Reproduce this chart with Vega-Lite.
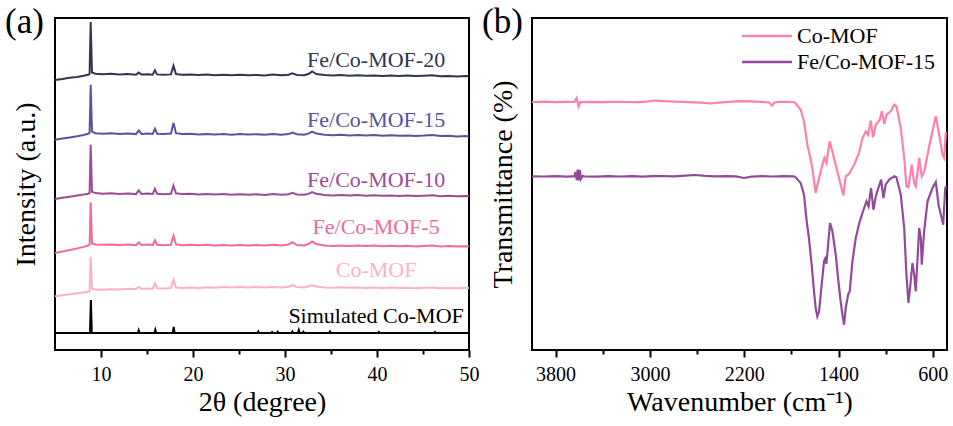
{
  "$schema": "https://vega.github.io/schema/vega-lite/v6.json",
  "background": "white",
  "padding": {"left": 4, "top": 4, "right": 2, "bottom": 0},
  "spacing": 1,
  "config": {
    "font": "Liberation Serif",
    "view": {"stroke": "black", "strokeWidth": 2},
    "axis": {
      "labelFont": "Liberation Serif",
      "titleFont": "Liberation Serif",
      "labelFontSize": 20,
      "titleFontSize": 28,
      "titleFontWeight": "normal",
      "labelColor": "black",
      "titleColor": "black",
      "domain": false,
      "grid": false,
      "tickColor": "black",
      "tickWidth": 2
    },
    "axisY": {"labels": false, "ticks": false, "titlePadding": 15, "titleFont": "Liberation Serif", "labelFont": "Liberation Serif"},
    "axisX": {"labelPadding": 7, "titlePadding": 4, "labelFlush": false, "titleFont": "Liberation Serif", "labelFont": "Liberation Serif"}
  },
  "datasets": {
    "xrd": [
      {"sample": "Fe/Co-MOF-20", "theta": 5, "intensity": 270},
      {"sample": "Fe/Co-MOF-20", "theta": 5.8, "intensity": 271},
      {"sample": "Fe/Co-MOF-20", "theta": 6.6, "intensity": 272.2},
      {"sample": "Fe/Co-MOF-20", "theta": 7.4, "intensity": 273},
      {"sample": "Fe/Co-MOF-20", "theta": 8.1, "intensity": 274.2},
      {"sample": "Fe/Co-MOF-20", "theta": 8.6, "intensity": 275.2},
      {"sample": "Fe/Co-MOF-20", "theta": 8.76, "intensity": 276},
      {"sample": "Fe/Co-MOF-20", "theta": 8.88, "intensity": 328},
      {"sample": "Fe/Co-MOF-20", "theta": 9.02, "intensity": 277.5},
      {"sample": "Fe/Co-MOF-20", "theta": 9.4, "intensity": 276.3},
      {"sample": "Fe/Co-MOF-20", "theta": 10.2, "intensity": 275.8},
      {"sample": "Fe/Co-MOF-20", "theta": 11.1, "intensity": 276.2},
      {"sample": "Fe/Co-MOF-20", "theta": 12.0, "intensity": 275.5},
      {"sample": "Fe/Co-MOF-20", "theta": 12.9, "intensity": 275.9},
      {"sample": "Fe/Co-MOF-20", "theta": 13.8, "intensity": 275.3},
      {"sample": "Fe/Co-MOF-20", "theta": 14.1, "intensity": 277.4},
      {"sample": "Fe/Co-MOF-20", "theta": 14.4, "intensity": 275.4},
      {"sample": "Fe/Co-MOF-20", "theta": 15.1, "intensity": 275.8},
      {"sample": "Fe/Co-MOF-20", "theta": 15.62, "intensity": 275.3},
      {"sample": "Fe/Co-MOF-20", "theta": 15.86, "intensity": 279.7},
      {"sample": "Fe/Co-MOF-20", "theta": 16.1, "intensity": 275.6},
      {"sample": "Fe/Co-MOF-20", "theta": 16.8, "intensity": 275.2},
      {"sample": "Fe/Co-MOF-20", "theta": 17.6, "intensity": 275.6},
      {"sample": "Fe/Co-MOF-20", "theta": 17.88, "intensity": 284.3},
      {"sample": "Fe/Co-MOF-20", "theta": 18.15, "intensity": 276},
      {"sample": "Fe/Co-MOF-20", "theta": 18.8, "intensity": 275.3},
      {"sample": "Fe/Co-MOF-20", "theta": 19.7, "intensity": 275.6},
      {"sample": "Fe/Co-MOF-20", "theta": 20.6, "intensity": 274.9},
      {"sample": "Fe/Co-MOF-20", "theta": 21.5, "intensity": 275.4},
      {"sample": "Fe/Co-MOF-20", "theta": 22.4, "intensity": 274.8},
      {"sample": "Fe/Co-MOF-20", "theta": 23.3, "intensity": 275.2},
      {"sample": "Fe/Co-MOF-20", "theta": 24.2, "intensity": 274.7},
      {"sample": "Fe/Co-MOF-20", "theta": 25.1, "intensity": 275.3},
      {"sample": "Fe/Co-MOF-20", "theta": 26.0, "intensity": 274.8},
      {"sample": "Fe/Co-MOF-20", "theta": 26.9, "intensity": 275.1},
      {"sample": "Fe/Co-MOF-20", "theta": 27.8, "intensity": 274.6},
      {"sample": "Fe/Co-MOF-20", "theta": 28.7, "intensity": 275.4},
      {"sample": "Fe/Co-MOF-20", "theta": 29.6, "intensity": 274.7},
      {"sample": "Fe/Co-MOF-20", "theta": 30.4, "intensity": 275.3},
      {"sample": "Fe/Co-MOF-20", "theta": 30.8, "intensity": 276.6},
      {"sample": "Fe/Co-MOF-20", "theta": 31.3, "intensity": 275.1},
      {"sample": "Fe/Co-MOF-20", "theta": 32.1, "intensity": 274.8},
      {"sample": "Fe/Co-MOF-20", "theta": 32.6, "intensity": 276.2},
      {"sample": "Fe/Co-MOF-20", "theta": 32.95, "intensity": 278.6},
      {"sample": "Fe/Co-MOF-20", "theta": 33.4, "intensity": 276},
      {"sample": "Fe/Co-MOF-20", "theta": 34.3, "intensity": 274.9},
      {"sample": "Fe/Co-MOF-20", "theta": 35.2, "intensity": 274.4},
      {"sample": "Fe/Co-MOF-20", "theta": 36.1, "intensity": 274.9},
      {"sample": "Fe/Co-MOF-20", "theta": 37.0, "intensity": 274.3},
      {"sample": "Fe/Co-MOF-20", "theta": 37.9, "intensity": 274.7},
      {"sample": "Fe/Co-MOF-20", "theta": 38.8, "intensity": 274.2},
      {"sample": "Fe/Co-MOF-20", "theta": 39.7, "intensity": 274.6},
      {"sample": "Fe/Co-MOF-20", "theta": 40.6, "intensity": 274.1},
      {"sample": "Fe/Co-MOF-20", "theta": 41.5, "intensity": 274.5},
      {"sample": "Fe/Co-MOF-20", "theta": 42.4, "intensity": 274},
      {"sample": "Fe/Co-MOF-20", "theta": 43.3, "intensity": 274.4},
      {"sample": "Fe/Co-MOF-20", "theta": 44.2, "intensity": 273.9},
      {"sample": "Fe/Co-MOF-20", "theta": 45.1, "intensity": 274.3},
      {"sample": "Fe/Co-MOF-20", "theta": 46.0, "intensity": 274.8},
      {"sample": "Fe/Co-MOF-20", "theta": 46.9, "intensity": 273.8},
      {"sample": "Fe/Co-MOF-20", "theta": 47.8, "intensity": 274.1},
      {"sample": "Fe/Co-MOF-20", "theta": 48.7, "intensity": 273.6},
      {"sample": "Fe/Co-MOF-20", "theta": 49.6, "intensity": 274},
      {"sample": "Fe/Co-MOF-20", "theta": 50, "intensity": 273.7},

      {"sample": "Fe/Co-MOF-15", "theta": 5, "intensity": 210.3},
      {"sample": "Fe/Co-MOF-15", "theta": 5.8, "intensity": 211.5},
      {"sample": "Fe/Co-MOF-15", "theta": 6.6, "intensity": 212.6},
      {"sample": "Fe/Co-MOF-15", "theta": 7.4, "intensity": 213.8},
      {"sample": "Fe/Co-MOF-15", "theta": 8.1, "intensity": 215},
      {"sample": "Fe/Co-MOF-15", "theta": 8.6, "intensity": 216.2},
      {"sample": "Fe/Co-MOF-15", "theta": 8.76, "intensity": 217},
      {"sample": "Fe/Co-MOF-15", "theta": 8.88, "intensity": 265.3},
      {"sample": "Fe/Co-MOF-15", "theta": 9.02, "intensity": 218.3},
      {"sample": "Fe/Co-MOF-15", "theta": 9.4, "intensity": 216.8},
      {"sample": "Fe/Co-MOF-15", "theta": 10.2, "intensity": 216.3},
      {"sample": "Fe/Co-MOF-15", "theta": 11.1, "intensity": 216.7},
      {"sample": "Fe/Co-MOF-15", "theta": 12.0, "intensity": 216},
      {"sample": "Fe/Co-MOF-15", "theta": 12.9, "intensity": 216.5},
      {"sample": "Fe/Co-MOF-15", "theta": 13.8, "intensity": 215.9},
      {"sample": "Fe/Co-MOF-15", "theta": 14.1, "intensity": 219.6},
      {"sample": "Fe/Co-MOF-15", "theta": 14.4, "intensity": 216.1},
      {"sample": "Fe/Co-MOF-15", "theta": 15.1, "intensity": 216.4},
      {"sample": "Fe/Co-MOF-15", "theta": 15.62, "intensity": 216},
      {"sample": "Fe/Co-MOF-15", "theta": 15.86, "intensity": 221.3},
      {"sample": "Fe/Co-MOF-15", "theta": 16.1, "intensity": 216.3},
      {"sample": "Fe/Co-MOF-15", "theta": 16.8, "intensity": 215.9},
      {"sample": "Fe/Co-MOF-15", "theta": 17.6, "intensity": 216.4},
      {"sample": "Fe/Co-MOF-15", "theta": 17.88, "intensity": 227},
      {"sample": "Fe/Co-MOF-15", "theta": 18.15, "intensity": 216.8},
      {"sample": "Fe/Co-MOF-15", "theta": 18.8, "intensity": 216},
      {"sample": "Fe/Co-MOF-15", "theta": 19.7, "intensity": 216.3},
      {"sample": "Fe/Co-MOF-15", "theta": 20.6, "intensity": 215.6},
      {"sample": "Fe/Co-MOF-15", "theta": 21.5, "intensity": 216.1},
      {"sample": "Fe/Co-MOF-15", "theta": 22.4, "intensity": 215.5},
      {"sample": "Fe/Co-MOF-15", "theta": 23.3, "intensity": 215.9},
      {"sample": "Fe/Co-MOF-15", "theta": 24.2, "intensity": 215.3},
      {"sample": "Fe/Co-MOF-15", "theta": 25.1, "intensity": 215.9},
      {"sample": "Fe/Co-MOF-15", "theta": 26.0, "intensity": 215.4},
      {"sample": "Fe/Co-MOF-15", "theta": 26.9, "intensity": 215.8},
      {"sample": "Fe/Co-MOF-15", "theta": 27.8, "intensity": 215.2},
      {"sample": "Fe/Co-MOF-15", "theta": 28.7, "intensity": 216},
      {"sample": "Fe/Co-MOF-15", "theta": 29.6, "intensity": 215.3},
      {"sample": "Fe/Co-MOF-15", "theta": 30.4, "intensity": 215.9},
      {"sample": "Fe/Co-MOF-15", "theta": 30.8, "intensity": 217.4},
      {"sample": "Fe/Co-MOF-15", "theta": 31.3, "intensity": 215.7},
      {"sample": "Fe/Co-MOF-15", "theta": 32.1, "intensity": 215.3},
      {"sample": "Fe/Co-MOF-15", "theta": 32.6, "intensity": 216.6},
      {"sample": "Fe/Co-MOF-15", "theta": 32.95, "intensity": 218.4},
      {"sample": "Fe/Co-MOF-15", "theta": 33.4, "intensity": 216.4},
      {"sample": "Fe/Co-MOF-15", "theta": 34.3, "intensity": 215.3},
      {"sample": "Fe/Co-MOF-15", "theta": 35.2, "intensity": 214.7},
      {"sample": "Fe/Co-MOF-15", "theta": 36.1, "intensity": 215.2},
      {"sample": "Fe/Co-MOF-15", "theta": 37.0, "intensity": 214.6},
      {"sample": "Fe/Co-MOF-15", "theta": 37.9, "intensity": 215},
      {"sample": "Fe/Co-MOF-15", "theta": 38.8, "intensity": 214.4},
      {"sample": "Fe/Co-MOF-15", "theta": 39.7, "intensity": 214.9},
      {"sample": "Fe/Co-MOF-15", "theta": 40.6, "intensity": 214.3},
      {"sample": "Fe/Co-MOF-15", "theta": 41.5, "intensity": 214.7},
      {"sample": "Fe/Co-MOF-15", "theta": 42.4, "intensity": 214.2},
      {"sample": "Fe/Co-MOF-15", "theta": 43.3, "intensity": 214.6},
      {"sample": "Fe/Co-MOF-15", "theta": 44.2, "intensity": 214},
      {"sample": "Fe/Co-MOF-15", "theta": 45.1, "intensity": 214.4},
      {"sample": "Fe/Co-MOF-15", "theta": 46.0, "intensity": 215},
      {"sample": "Fe/Co-MOF-15", "theta": 46.9, "intensity": 213.9},
      {"sample": "Fe/Co-MOF-15", "theta": 47.8, "intensity": 214.2},
      {"sample": "Fe/Co-MOF-15", "theta": 48.7, "intensity": 213.6},
      {"sample": "Fe/Co-MOF-15", "theta": 49.6, "intensity": 214},
      {"sample": "Fe/Co-MOF-15", "theta": 50, "intensity": 213.7},

      {"sample": "Fe/Co-MOF-10", "theta": 5, "intensity": 151},
      {"sample": "Fe/Co-MOF-10", "theta": 5.8, "intensity": 152.2},
      {"sample": "Fe/Co-MOF-10", "theta": 6.6, "intensity": 153.3},
      {"sample": "Fe/Co-MOF-10", "theta": 7.4, "intensity": 154.4},
      {"sample": "Fe/Co-MOF-10", "theta": 8.1, "intensity": 155.4},
      {"sample": "Fe/Co-MOF-10", "theta": 8.6, "intensity": 156.3},
      {"sample": "Fe/Co-MOF-10", "theta": 8.76, "intensity": 157},
      {"sample": "Fe/Co-MOF-10", "theta": 8.88, "intensity": 205.3},
      {"sample": "Fe/Co-MOF-10", "theta": 9.02, "intensity": 158.2},
      {"sample": "Fe/Co-MOF-10", "theta": 9.4, "intensity": 156.9},
      {"sample": "Fe/Co-MOF-10", "theta": 10.2, "intensity": 156.3},
      {"sample": "Fe/Co-MOF-10", "theta": 11.1, "intensity": 156.7},
      {"sample": "Fe/Co-MOF-10", "theta": 12.0, "intensity": 156},
      {"sample": "Fe/Co-MOF-10", "theta": 12.9, "intensity": 156.5},
      {"sample": "Fe/Co-MOF-10", "theta": 13.8, "intensity": 155.9},
      {"sample": "Fe/Co-MOF-10", "theta": 14.1, "intensity": 159.6},
      {"sample": "Fe/Co-MOF-10", "theta": 14.4, "intensity": 156.1},
      {"sample": "Fe/Co-MOF-10", "theta": 15.1, "intensity": 156.5},
      {"sample": "Fe/Co-MOF-10", "theta": 15.62, "intensity": 156},
      {"sample": "Fe/Co-MOF-10", "theta": 15.86, "intensity": 161.2},
      {"sample": "Fe/Co-MOF-10", "theta": 16.1, "intensity": 156.3},
      {"sample": "Fe/Co-MOF-10", "theta": 16.8, "intensity": 155.8},
      {"sample": "Fe/Co-MOF-10", "theta": 17.6, "intensity": 156.3},
      {"sample": "Fe/Co-MOF-10", "theta": 17.88, "intensity": 164.3},
      {"sample": "Fe/Co-MOF-10", "theta": 18.15, "intensity": 156.7},
      {"sample": "Fe/Co-MOF-10", "theta": 18.8, "intensity": 155.9},
      {"sample": "Fe/Co-MOF-10", "theta": 19.7, "intensity": 156.3},
      {"sample": "Fe/Co-MOF-10", "theta": 20.6, "intensity": 155.6},
      {"sample": "Fe/Co-MOF-10", "theta": 21.5, "intensity": 156.1},
      {"sample": "Fe/Co-MOF-10", "theta": 22.4, "intensity": 155.5},
      {"sample": "Fe/Co-MOF-10", "theta": 23.3, "intensity": 155.9},
      {"sample": "Fe/Co-MOF-10", "theta": 24.2, "intensity": 155.3},
      {"sample": "Fe/Co-MOF-10", "theta": 25.1, "intensity": 155.8},
      {"sample": "Fe/Co-MOF-10", "theta": 26.0, "intensity": 155.2},
      {"sample": "Fe/Co-MOF-10", "theta": 26.9, "intensity": 155.7},
      {"sample": "Fe/Co-MOF-10", "theta": 27.8, "intensity": 155.1},
      {"sample": "Fe/Co-MOF-10", "theta": 28.7, "intensity": 155.9},
      {"sample": "Fe/Co-MOF-10", "theta": 29.6, "intensity": 155.2},
      {"sample": "Fe/Co-MOF-10", "theta": 30.4, "intensity": 155.8},
      {"sample": "Fe/Co-MOF-10", "theta": 30.8, "intensity": 157.2},
      {"sample": "Fe/Co-MOF-10", "theta": 31.3, "intensity": 155.5},
      {"sample": "Fe/Co-MOF-10", "theta": 32.1, "intensity": 155.2},
      {"sample": "Fe/Co-MOF-10", "theta": 32.6, "intensity": 156.4},
      {"sample": "Fe/Co-MOF-10", "theta": 32.95, "intensity": 158},
      {"sample": "Fe/Co-MOF-10", "theta": 33.4, "intensity": 156.2},
      {"sample": "Fe/Co-MOF-10", "theta": 34.3, "intensity": 155.1},
      {"sample": "Fe/Co-MOF-10", "theta": 35.2, "intensity": 154.6},
      {"sample": "Fe/Co-MOF-10", "theta": 36.1, "intensity": 155.1},
      {"sample": "Fe/Co-MOF-10", "theta": 37.0, "intensity": 154.5},
      {"sample": "Fe/Co-MOF-10", "theta": 37.9, "intensity": 154.9},
      {"sample": "Fe/Co-MOF-10", "theta": 38.8, "intensity": 154.3},
      {"sample": "Fe/Co-MOF-10", "theta": 39.7, "intensity": 154.8},
      {"sample": "Fe/Co-MOF-10", "theta": 40.6, "intensity": 154.2},
      {"sample": "Fe/Co-MOF-10", "theta": 41.5, "intensity": 154.6},
      {"sample": "Fe/Co-MOF-10", "theta": 42.4, "intensity": 154.1},
      {"sample": "Fe/Co-MOF-10", "theta": 43.3, "intensity": 154.5},
      {"sample": "Fe/Co-MOF-10", "theta": 44.2, "intensity": 153.9},
      {"sample": "Fe/Co-MOF-10", "theta": 45.1, "intensity": 154.3},
      {"sample": "Fe/Co-MOF-10", "theta": 46.0, "intensity": 154.7},
      {"sample": "Fe/Co-MOF-10", "theta": 46.9, "intensity": 153.8},
      {"sample": "Fe/Co-MOF-10", "theta": 47.8, "intensity": 154.2},
      {"sample": "Fe/Co-MOF-10", "theta": 48.7, "intensity": 153.7},
      {"sample": "Fe/Co-MOF-10", "theta": 49.6, "intensity": 154.1},
      {"sample": "Fe/Co-MOF-10", "theta": 50, "intensity": 153.8},

      {"sample": "Fe/Co-MOF-5", "theta": 5, "intensity": 97},
      {"sample": "Fe/Co-MOF-5", "theta": 5.8, "intensity": 98.6},
      {"sample": "Fe/Co-MOF-5", "theta": 6.6, "intensity": 100.1},
      {"sample": "Fe/Co-MOF-5", "theta": 7.4, "intensity": 101.6},
      {"sample": "Fe/Co-MOF-5", "theta": 8.1, "intensity": 103.1},
      {"sample": "Fe/Co-MOF-5", "theta": 8.6, "intensity": 104.5},
      {"sample": "Fe/Co-MOF-5", "theta": 8.76, "intensity": 105.3},
      {"sample": "Fe/Co-MOF-5", "theta": 8.88, "intensity": 147.7},
      {"sample": "Fe/Co-MOF-5", "theta": 9.02, "intensity": 106.6},
      {"sample": "Fe/Co-MOF-5", "theta": 9.4, "intensity": 105.6},
      {"sample": "Fe/Co-MOF-5", "theta": 10.2, "intensity": 105.2},
      {"sample": "Fe/Co-MOF-5", "theta": 11.1, "intensity": 105.6},
      {"sample": "Fe/Co-MOF-5", "theta": 12.0, "intensity": 104.9},
      {"sample": "Fe/Co-MOF-5", "theta": 12.9, "intensity": 105.4},
      {"sample": "Fe/Co-MOF-5", "theta": 13.8, "intensity": 104.8},
      {"sample": "Fe/Co-MOF-5", "theta": 14.1, "intensity": 107.7},
      {"sample": "Fe/Co-MOF-5", "theta": 14.4, "intensity": 105},
      {"sample": "Fe/Co-MOF-5", "theta": 15.1, "intensity": 105.4},
      {"sample": "Fe/Co-MOF-5", "theta": 15.62, "intensity": 104.9},
      {"sample": "Fe/Co-MOF-5", "theta": 15.86, "intensity": 109.6},
      {"sample": "Fe/Co-MOF-5", "theta": 16.1, "intensity": 105.2},
      {"sample": "Fe/Co-MOF-5", "theta": 16.8, "intensity": 104.7},
      {"sample": "Fe/Co-MOF-5", "theta": 17.6, "intensity": 105.2},
      {"sample": "Fe/Co-MOF-5", "theta": 17.88, "intensity": 114.3},
      {"sample": "Fe/Co-MOF-5", "theta": 18.15, "intensity": 105.6},
      {"sample": "Fe/Co-MOF-5", "theta": 18.8, "intensity": 104.8},
      {"sample": "Fe/Co-MOF-5", "theta": 19.7, "intensity": 105.3},
      {"sample": "Fe/Co-MOF-5", "theta": 20.6, "intensity": 104.7},
      {"sample": "Fe/Co-MOF-5", "theta": 21.5, "intensity": 105.2},
      {"sample": "Fe/Co-MOF-5", "theta": 22.4, "intensity": 104.6},
      {"sample": "Fe/Co-MOF-5", "theta": 23.3, "intensity": 105.1},
      {"sample": "Fe/Co-MOF-5", "theta": 24.2, "intensity": 104.5},
      {"sample": "Fe/Co-MOF-5", "theta": 25.1, "intensity": 105},
      {"sample": "Fe/Co-MOF-5", "theta": 26.0, "intensity": 104.4},
      {"sample": "Fe/Co-MOF-5", "theta": 26.9, "intensity": 105},
      {"sample": "Fe/Co-MOF-5", "theta": 27.8, "intensity": 104.4},
      {"sample": "Fe/Co-MOF-5", "theta": 28.7, "intensity": 105.2},
      {"sample": "Fe/Co-MOF-5", "theta": 29.6, "intensity": 104.6},
      {"sample": "Fe/Co-MOF-5", "theta": 30.4, "intensity": 105.4},
      {"sample": "Fe/Co-MOF-5", "theta": 30.8, "intensity": 107.8},
      {"sample": "Fe/Co-MOF-5", "theta": 31.3, "intensity": 105},
      {"sample": "Fe/Co-MOF-5", "theta": 32.1, "intensity": 104.6},
      {"sample": "Fe/Co-MOF-5", "theta": 32.6, "intensity": 106.4},
      {"sample": "Fe/Co-MOF-5", "theta": 32.95, "intensity": 108.6},
      {"sample": "Fe/Co-MOF-5", "theta": 33.4, "intensity": 106},
      {"sample": "Fe/Co-MOF-5", "theta": 34.3, "intensity": 104.6},
      {"sample": "Fe/Co-MOF-5", "theta": 35.2, "intensity": 104.1},
      {"sample": "Fe/Co-MOF-5", "theta": 36.1, "intensity": 104.6},
      {"sample": "Fe/Co-MOF-5", "theta": 37.0, "intensity": 104},
      {"sample": "Fe/Co-MOF-5", "theta": 37.9, "intensity": 104.4},
      {"sample": "Fe/Co-MOF-5", "theta": 38.8, "intensity": 103.9},
      {"sample": "Fe/Co-MOF-5", "theta": 39.7, "intensity": 104.4},
      {"sample": "Fe/Co-MOF-5", "theta": 40.6, "intensity": 103.8},
      {"sample": "Fe/Co-MOF-5", "theta": 41.5, "intensity": 104.3},
      {"sample": "Fe/Co-MOF-5", "theta": 42.4, "intensity": 103.7},
      {"sample": "Fe/Co-MOF-5", "theta": 43.3, "intensity": 104.2},
      {"sample": "Fe/Co-MOF-5", "theta": 44.2, "intensity": 103.6},
      {"sample": "Fe/Co-MOF-5", "theta": 45.1, "intensity": 104},
      {"sample": "Fe/Co-MOF-5", "theta": 46.0, "intensity": 104.4},
      {"sample": "Fe/Co-MOF-5", "theta": 46.9, "intensity": 103.5},
      {"sample": "Fe/Co-MOF-5", "theta": 47.8, "intensity": 103.9},
      {"sample": "Fe/Co-MOF-5", "theta": 48.7, "intensity": 103.4},
      {"sample": "Fe/Co-MOF-5", "theta": 49.6, "intensity": 103.8},
      {"sample": "Fe/Co-MOF-5", "theta": 50, "intensity": 103.6},

      {"sample": "Co-MOF", "theta": 5, "intensity": 53.7},
      {"sample": "Co-MOF", "theta": 5.8, "intensity": 54.8},
      {"sample": "Co-MOF", "theta": 6.6, "intensity": 55.8},
      {"sample": "Co-MOF", "theta": 7.4, "intensity": 56.7},
      {"sample": "Co-MOF", "theta": 8.1, "intensity": 57.6},
      {"sample": "Co-MOF", "theta": 8.6, "intensity": 58.3},
      {"sample": "Co-MOF", "theta": 8.76, "intensity": 58.7},
      {"sample": "Co-MOF", "theta": 8.88, "intensity": 93},
      {"sample": "Co-MOF", "theta": 9.02, "intensity": 61.3},
      {"sample": "Co-MOF", "theta": 9.4, "intensity": 60.4},
      {"sample": "Co-MOF", "theta": 10.2, "intensity": 60.2},
      {"sample": "Co-MOF", "theta": 11.1, "intensity": 60.8},
      {"sample": "Co-MOF", "theta": 12.0, "intensity": 60.5},
      {"sample": "Co-MOF", "theta": 12.9, "intensity": 61.2},
      {"sample": "Co-MOF", "theta": 13.8, "intensity": 60.9},
      {"sample": "Co-MOF", "theta": 14.1, "intensity": 63},
      {"sample": "Co-MOF", "theta": 14.4, "intensity": 61.2},
      {"sample": "Co-MOF", "theta": 15.1, "intensity": 61.6},
      {"sample": "Co-MOF", "theta": 15.62, "intensity": 61.3},
      {"sample": "Co-MOF", "theta": 15.86, "intensity": 66.8},
      {"sample": "Co-MOF", "theta": 16.1, "intensity": 61.8},
      {"sample": "Co-MOF", "theta": 16.8, "intensity": 61.5},
      {"sample": "Co-MOF", "theta": 17.6, "intensity": 62},
      {"sample": "Co-MOF", "theta": 17.88, "intensity": 70.2},
      {"sample": "Co-MOF", "theta": 18.15, "intensity": 62.4},
      {"sample": "Co-MOF", "theta": 18.8, "intensity": 61.9},
      {"sample": "Co-MOF", "theta": 19.7, "intensity": 62.4},
      {"sample": "Co-MOF", "theta": 20.6, "intensity": 62.1},
      {"sample": "Co-MOF", "theta": 21.5, "intensity": 62.8},
      {"sample": "Co-MOF", "theta": 22.4, "intensity": 62.3},
      {"sample": "Co-MOF", "theta": 23.3, "intensity": 62.9},
      {"sample": "Co-MOF", "theta": 24.2, "intensity": 62.4},
      {"sample": "Co-MOF", "theta": 25.1, "intensity": 62.9},
      {"sample": "Co-MOF", "theta": 26.0, "intensity": 62.5},
      {"sample": "Co-MOF", "theta": 26.9, "intensity": 63},
      {"sample": "Co-MOF", "theta": 27.8, "intensity": 62.4},
      {"sample": "Co-MOF", "theta": 28.7, "intensity": 63.1},
      {"sample": "Co-MOF", "theta": 29.6, "intensity": 62.6},
      {"sample": "Co-MOF", "theta": 30.4, "intensity": 63.2},
      {"sample": "Co-MOF", "theta": 30.8, "intensity": 64.9},
      {"sample": "Co-MOF", "theta": 31.3, "intensity": 63},
      {"sample": "Co-MOF", "theta": 32.1, "intensity": 62.6},
      {"sample": "Co-MOF", "theta": 32.6, "intensity": 63.8},
      {"sample": "Co-MOF", "theta": 32.95, "intensity": 64.6},
      {"sample": "Co-MOF", "theta": 33.4, "intensity": 63.5},
      {"sample": "Co-MOF", "theta": 34.3, "intensity": 62.6},
      {"sample": "Co-MOF", "theta": 35.2, "intensity": 62.3},
      {"sample": "Co-MOF", "theta": 36.1, "intensity": 62.7},
      {"sample": "Co-MOF", "theta": 37.0, "intensity": 62.2},
      {"sample": "Co-MOF", "theta": 37.9, "intensity": 62.6},
      {"sample": "Co-MOF", "theta": 38.8, "intensity": 62.1},
      {"sample": "Co-MOF", "theta": 39.7, "intensity": 62.5},
      {"sample": "Co-MOF", "theta": 40.6, "intensity": 62},
      {"sample": "Co-MOF", "theta": 41.5, "intensity": 62.4},
      {"sample": "Co-MOF", "theta": 42.4, "intensity": 61.9},
      {"sample": "Co-MOF", "theta": 43.3, "intensity": 62.3},
      {"sample": "Co-MOF", "theta": 44.2, "intensity": 61.8},
      {"sample": "Co-MOF", "theta": 45.1, "intensity": 62.2},
      {"sample": "Co-MOF", "theta": 46.0, "intensity": 62.5},
      {"sample": "Co-MOF", "theta": 46.9, "intensity": 61.8},
      {"sample": "Co-MOF", "theta": 47.8, "intensity": 62.1},
      {"sample": "Co-MOF", "theta": 48.7, "intensity": 61.7},
      {"sample": "Co-MOF", "theta": 49.6, "intensity": 62.1},
      {"sample": "Co-MOF", "theta": 50, "intensity": 61.9},

      {"sample": "Simulated Co-MOF", "theta": 5, "intensity": 17},
      {"sample": "Simulated Co-MOF", "theta": 8.8, "intensity": 17},
      {"sample": "Simulated Co-MOF", "theta": 8.9, "intensity": 50},
      {"sample": "Simulated Co-MOF", "theta": 9.0, "intensity": 17},
      {"sample": "Simulated Co-MOF", "theta": 14.0, "intensity": 17},
      {"sample": "Simulated Co-MOF", "theta": 14.1, "intensity": 19.8},
      {"sample": "Simulated Co-MOF", "theta": 14.2, "intensity": 17},
      {"sample": "Simulated Co-MOF", "theta": 15.8, "intensity": 17},
      {"sample": "Simulated Co-MOF", "theta": 15.9, "intensity": 20.3},
      {"sample": "Simulated Co-MOF", "theta": 16.0, "intensity": 17},
      {"sample": "Simulated Co-MOF", "theta": 17.8, "intensity": 17},
      {"sample": "Simulated Co-MOF", "theta": 17.9, "intensity": 23},
      {"sample": "Simulated Co-MOF", "theta": 18.0, "intensity": 17},
      {"sample": "Simulated Co-MOF", "theta": 27.0, "intensity": 17},
      {"sample": "Simulated Co-MOF", "theta": 27.1, "intensity": 18.5},
      {"sample": "Simulated Co-MOF", "theta": 27.2, "intensity": 17},
      {"sample": "Simulated Co-MOF", "theta": 28.5, "intensity": 17},
      {"sample": "Simulated Co-MOF", "theta": 28.6, "intensity": 18},
      {"sample": "Simulated Co-MOF", "theta": 28.7, "intensity": 17},
      {"sample": "Simulated Co-MOF", "theta": 29.1, "intensity": 17},
      {"sample": "Simulated Co-MOF", "theta": 29.2, "intensity": 18.3},
      {"sample": "Simulated Co-MOF", "theta": 29.3, "intensity": 17},
      {"sample": "Simulated Co-MOF", "theta": 30.7, "intensity": 17},
      {"sample": "Simulated Co-MOF", "theta": 30.8, "intensity": 18.5},
      {"sample": "Simulated Co-MOF", "theta": 30.9, "intensity": 17},
      {"sample": "Simulated Co-MOF", "theta": 31.4, "intensity": 17},
      {"sample": "Simulated Co-MOF", "theta": 31.5, "intensity": 20},
      {"sample": "Simulated Co-MOF", "theta": 31.6, "intensity": 17},
      {"sample": "Simulated Co-MOF", "theta": 31.9, "intensity": 17},
      {"sample": "Simulated Co-MOF", "theta": 32.0, "intensity": 18.3},
      {"sample": "Simulated Co-MOF", "theta": 32.1, "intensity": 17},
      {"sample": "Simulated Co-MOF", "theta": 34.8, "intensity": 17},
      {"sample": "Simulated Co-MOF", "theta": 34.9, "intensity": 18.6},
      {"sample": "Simulated Co-MOF", "theta": 35.0, "intensity": 17},
      {"sample": "Simulated Co-MOF", "theta": 40.1, "intensity": 17},
      {"sample": "Simulated Co-MOF", "theta": 40.2, "intensity": 18},
      {"sample": "Simulated Co-MOF", "theta": 40.3, "intensity": 17},
      {"sample": "Simulated Co-MOF", "theta": 46.2, "intensity": 17},
      {"sample": "Simulated Co-MOF", "theta": 46.3, "intensity": 18},
      {"sample": "Simulated Co-MOF", "theta": 46.4, "intensity": 17},
      {"sample": "Simulated Co-MOF", "theta": 50, "intensity": 17}
    ],
    "xrdLabels": [
      {"sample": "Fe/Co-MOF-20", "label": "Fe/Co-MOF-20", "theta": 39.9, "intensity": 290.3},
      {"sample": "Fe/Co-MOF-15", "label": "Fe/Co-MOF-15", "theta": 39.9, "intensity": 230.3},
      {"sample": "Fe/Co-MOF-10", "label": "Fe/Co-MOF-10", "theta": 39.9, "intensity": 170.3},
      {"sample": "Fe/Co-MOF-5", "label": "Fe/Co-MOF-5", "theta": 39.9, "intensity": 122.7},
      {"sample": "Co-MOF", "label": "Co-MOF", "theta": 39.9, "intensity": 80.3},
      {"sample": "Simulated Co-MOF", "label": "Simulated Co-MOF", "theta": 39.9, "intensity": 33.7}
    ],
    "ftir": [
      {"sample": "Co-MOF", "wavenumber": 4000, "transmittance": 248},
      {"sample": "Co-MOF", "wavenumber": 3900, "transmittance": 248.3},
      {"sample": "Co-MOF", "wavenumber": 3800, "transmittance": 247.9},
      {"sample": "Co-MOF", "wavenumber": 3700, "transmittance": 248.2},
      {"sample": "Co-MOF", "wavenumber": 3640, "transmittance": 248},
      {"sample": "Co-MOF", "wavenumber": 3622, "transmittance": 252},
      {"sample": "Co-MOF", "wavenumber": 3605, "transmittance": 243.5},
      {"sample": "Co-MOF", "wavenumber": 3590, "transmittance": 247.8},
      {"sample": "Co-MOF", "wavenumber": 3500, "transmittance": 248.1},
      {"sample": "Co-MOF", "wavenumber": 3400, "transmittance": 247.9},
      {"sample": "Co-MOF", "wavenumber": 3300, "transmittance": 248.2},
      {"sample": "Co-MOF", "wavenumber": 3200, "transmittance": 248},
      {"sample": "Co-MOF", "wavenumber": 3100, "transmittance": 247.8},
      {"sample": "Co-MOF", "wavenumber": 3030, "transmittance": 248.3},
      {"sample": "Co-MOF", "wavenumber": 2960, "transmittance": 249.5},
      {"sample": "Co-MOF", "wavenumber": 2880, "transmittance": 248.8},
      {"sample": "Co-MOF", "wavenumber": 2780, "transmittance": 248.4},
      {"sample": "Co-MOF", "wavenumber": 2680, "transmittance": 247.9},
      {"sample": "Co-MOF", "wavenumber": 2560, "transmittance": 247.3},
      {"sample": "Co-MOF", "wavenumber": 2490, "transmittance": 246.5},
      {"sample": "Co-MOF", "wavenumber": 2420, "transmittance": 247.3},
      {"sample": "Co-MOF", "wavenumber": 2330, "transmittance": 248.2},
      {"sample": "Co-MOF", "wavenumber": 2240, "transmittance": 248.8},
      {"sample": "Co-MOF", "wavenumber": 2150, "transmittance": 248.6},
      {"sample": "Co-MOF", "wavenumber": 2060, "transmittance": 248.2},
      {"sample": "Co-MOF", "wavenumber": 1990, "transmittance": 247.5},
      {"sample": "Co-MOF", "wavenumber": 1965, "transmittance": 244.5},
      {"sample": "Co-MOF", "wavenumber": 1945, "transmittance": 247.3},
      {"sample": "Co-MOF", "wavenumber": 1919, "transmittance": 248},
      {"sample": "Co-MOF", "wavenumber": 1850, "transmittance": 248.2},
      {"sample": "Co-MOF", "wavenumber": 1790, "transmittance": 248},
      {"sample": "Co-MOF", "wavenumber": 1769, "transmittance": 247.5},
      {"sample": "Co-MOF", "wavenumber": 1721, "transmittance": 240.3},
      {"sample": "Co-MOF", "wavenumber": 1693, "transmittance": 228.7},
      {"sample": "Co-MOF", "wavenumber": 1664, "transmittance": 205.3},
      {"sample": "Co-MOF", "wavenumber": 1645, "transmittance": 195.3},
      {"sample": "Co-MOF", "wavenumber": 1622, "transmittance": 182},
      {"sample": "Co-MOF", "wavenumber": 1594, "transmittance": 157},
      {"sample": "Co-MOF", "wavenumber": 1565, "transmittance": 172},
      {"sample": "Co-MOF", "wavenumber": 1537, "transmittance": 185.3},
      {"sample": "Co-MOF", "wavenumber": 1520, "transmittance": 192},
      {"sample": "Co-MOF", "wavenumber": 1503, "transmittance": 187},
      {"sample": "Co-MOF", "wavenumber": 1475, "transmittance": 208.7},
      {"sample": "Co-MOF", "wavenumber": 1424, "transmittance": 185.3},
      {"sample": "Co-MOF", "wavenumber": 1382, "transmittance": 165.3},
      {"sample": "Co-MOF", "wavenumber": 1359, "transmittance": 154.7},
      {"sample": "Co-MOF", "wavenumber": 1339, "transmittance": 173.7},
      {"sample": "Co-MOF", "wavenumber": 1311, "transmittance": 176},
      {"sample": "Co-MOF", "wavenumber": 1268, "transmittance": 185.3},
      {"sample": "Co-MOF", "wavenumber": 1226, "transmittance": 197},
      {"sample": "Co-MOF", "wavenumber": 1197, "transmittance": 212},
      {"sample": "Co-MOF", "wavenumber": 1169, "transmittance": 218.7},
      {"sample": "Co-MOF", "wavenumber": 1149, "transmittance": 215.3},
      {"sample": "Co-MOF", "wavenumber": 1127, "transmittance": 229.3},
      {"sample": "Co-MOF", "wavenumber": 1107, "transmittance": 212.7},
      {"sample": "Co-MOF", "wavenumber": 1084, "transmittance": 225.3},
      {"sample": "Co-MOF", "wavenumber": 1050, "transmittance": 230.3},
      {"sample": "Co-MOF", "wavenumber": 1033, "transmittance": 238.7},
      {"sample": "Co-MOF", "wavenumber": 1011, "transmittance": 226},
      {"sample": "Co-MOF", "wavenumber": 994, "transmittance": 235.3},
      {"sample": "Co-MOF", "wavenumber": 957, "transmittance": 238.7},
      {"sample": "Co-MOF", "wavenumber": 928, "transmittance": 245.3},
      {"sample": "Co-MOF", "wavenumber": 909, "transmittance": 243.7},
      {"sample": "Co-MOF", "wavenumber": 872, "transmittance": 222},
      {"sample": "Co-MOF", "wavenumber": 843, "transmittance": 192},
      {"sample": "Co-MOF", "wavenumber": 824, "transmittance": 163.7},
      {"sample": "Co-MOF", "wavenumber": 807, "transmittance": 162.7},
      {"sample": "Co-MOF", "wavenumber": 779, "transmittance": 185.3},
      {"sample": "Co-MOF", "wavenumber": 758, "transmittance": 167},
      {"sample": "Co-MOF", "wavenumber": 745, "transmittance": 163.7},
      {"sample": "Co-MOF", "wavenumber": 716, "transmittance": 192},
      {"sample": "Co-MOF", "wavenumber": 694, "transmittance": 173.7},
      {"sample": "Co-MOF", "wavenumber": 674, "transmittance": 178},
      {"sample": "Co-MOF", "wavenumber": 631, "transmittance": 203.7},
      {"sample": "Co-MOF", "wavenumber": 575, "transmittance": 233.7},
      {"sample": "Co-MOF", "wavenumber": 546, "transmittance": 215.3},
      {"sample": "Co-MOF", "wavenumber": 518, "transmittance": 195.3},
      {"sample": "Co-MOF", "wavenumber": 504, "transmittance": 192},
      {"sample": "Co-MOF", "wavenumber": 490, "transmittance": 217},
      {"sample": "Co-MOF", "wavenumber": 484, "transmittance": 218},

      {"sample": "Fe/Co-MOF-15", "wavenumber": 4000, "transmittance": 173.7},
      {"sample": "Fe/Co-MOF-15", "wavenumber": 3900, "transmittance": 173.5},
      {"sample": "Fe/Co-MOF-15", "wavenumber": 3800, "transmittance": 173.8},
      {"sample": "Fe/Co-MOF-15", "wavenumber": 3700, "transmittance": 173.4},
      {"sample": "Fe/Co-MOF-15", "wavenumber": 3640, "transmittance": 173.8},
      {"sample": "Fe/Co-MOF-15", "wavenumber": 3630, "transmittance": 178},
      {"sample": "Fe/Co-MOF-15", "wavenumber": 3620, "transmittance": 170},
      {"sample": "Fe/Co-MOF-15", "wavenumber": 3612, "transmittance": 180.5},
      {"sample": "Fe/Co-MOF-15", "wavenumber": 3603, "transmittance": 169.5},
      {"sample": "Fe/Co-MOF-15", "wavenumber": 3594, "transmittance": 180},
      {"sample": "Fe/Co-MOF-15", "wavenumber": 3585, "transmittance": 171},
      {"sample": "Fe/Co-MOF-15", "wavenumber": 3570, "transmittance": 174},
      {"sample": "Fe/Co-MOF-15", "wavenumber": 3550, "transmittance": 173.5},
      {"sample": "Fe/Co-MOF-15", "wavenumber": 3450, "transmittance": 173.3},
      {"sample": "Fe/Co-MOF-15", "wavenumber": 3350, "transmittance": 173.8},
      {"sample": "Fe/Co-MOF-15", "wavenumber": 3250, "transmittance": 173.5},
      {"sample": "Fe/Co-MOF-15", "wavenumber": 3150, "transmittance": 173.8},
      {"sample": "Fe/Co-MOF-15", "wavenumber": 3060, "transmittance": 173.4},
      {"sample": "Fe/Co-MOF-15", "wavenumber": 2980, "transmittance": 173.9},
      {"sample": "Fe/Co-MOF-15", "wavenumber": 2900, "transmittance": 174},
      {"sample": "Fe/Co-MOF-15", "wavenumber": 2800, "transmittance": 173.7},
      {"sample": "Fe/Co-MOF-15", "wavenumber": 2700, "transmittance": 174.3},
      {"sample": "Fe/Co-MOF-15", "wavenumber": 2616, "transmittance": 175},
      {"sample": "Fe/Co-MOF-15", "wavenumber": 2530, "transmittance": 174.1},
      {"sample": "Fe/Co-MOF-15", "wavenumber": 2450, "transmittance": 173.7},
      {"sample": "Fe/Co-MOF-15", "wavenumber": 2350, "transmittance": 173.9},
      {"sample": "Fe/Co-MOF-15", "wavenumber": 2270, "transmittance": 173.6},
      {"sample": "Fe/Co-MOF-15", "wavenumber": 2202, "transmittance": 172},
      {"sample": "Fe/Co-MOF-15", "wavenumber": 2140, "transmittance": 173.4},
      {"sample": "Fe/Co-MOF-15", "wavenumber": 2050, "transmittance": 173.8},
      {"sample": "Fe/Co-MOF-15", "wavenumber": 1960, "transmittance": 173.5},
      {"sample": "Fe/Co-MOF-15", "wavenumber": 1870, "transmittance": 173.9},
      {"sample": "Fe/Co-MOF-15", "wavenumber": 1780, "transmittance": 173.7},
      {"sample": "Fe/Co-MOF-15", "wavenumber": 1764, "transmittance": 172.7},
      {"sample": "Fe/Co-MOF-15", "wavenumber": 1721, "transmittance": 167},
      {"sample": "Fe/Co-MOF-15", "wavenumber": 1693, "transmittance": 155.3},
      {"sample": "Fe/Co-MOF-15", "wavenumber": 1670, "transmittance": 128.7},
      {"sample": "Fe/Co-MOF-15", "wavenumber": 1651, "transmittance": 112},
      {"sample": "Fe/Co-MOF-15", "wavenumber": 1628, "transmittance": 85.3},
      {"sample": "Fe/Co-MOF-15", "wavenumber": 1608, "transmittance": 58.7},
      {"sample": "Fe/Co-MOF-15", "wavenumber": 1594, "transmittance": 42},
      {"sample": "Fe/Co-MOF-15", "wavenumber": 1580, "transmittance": 33.7},
      {"sample": "Fe/Co-MOF-15", "wavenumber": 1565, "transmittance": 38.7},
      {"sample": "Fe/Co-MOF-15", "wavenumber": 1543, "transmittance": 65.3},
      {"sample": "Fe/Co-MOF-15", "wavenumber": 1523, "transmittance": 88.7},
      {"sample": "Fe/Co-MOF-15", "wavenumber": 1514, "transmittance": 91.3},
      {"sample": "Fe/Co-MOF-15", "wavenumber": 1503, "transmittance": 86},
      {"sample": "Fe/Co-MOF-15", "wavenumber": 1486, "transmittance": 108.7},
      {"sample": "Fe/Co-MOF-15", "wavenumber": 1472, "transmittance": 127},
      {"sample": "Fe/Co-MOF-15", "wavenumber": 1452, "transmittance": 118.7},
      {"sample": "Fe/Co-MOF-15", "wavenumber": 1424, "transmittance": 95.3},
      {"sample": "Fe/Co-MOF-15", "wavenumber": 1401, "transmittance": 68.7},
      {"sample": "Fe/Co-MOF-15", "wavenumber": 1382, "transmittance": 48.7},
      {"sample": "Fe/Co-MOF-15", "wavenumber": 1367, "transmittance": 35.3},
      {"sample": "Fe/Co-MOF-15", "wavenumber": 1353, "transmittance": 25.3},
      {"sample": "Fe/Co-MOF-15", "wavenumber": 1339, "transmittance": 42},
      {"sample": "Fe/Co-MOF-15", "wavenumber": 1319, "transmittance": 55.3},
      {"sample": "Fe/Co-MOF-15", "wavenumber": 1305, "transmittance": 58.7},
      {"sample": "Fe/Co-MOF-15", "wavenumber": 1282, "transmittance": 88.7},
      {"sample": "Fe/Co-MOF-15", "wavenumber": 1254, "transmittance": 112},
      {"sample": "Fe/Co-MOF-15", "wavenumber": 1220, "transmittance": 128.7},
      {"sample": "Fe/Co-MOF-15", "wavenumber": 1183, "transmittance": 142},
      {"sample": "Fe/Co-MOF-15", "wavenumber": 1163, "transmittance": 148.7},
      {"sample": "Fe/Co-MOF-15", "wavenumber": 1146, "transmittance": 143.7},
      {"sample": "Fe/Co-MOF-15", "wavenumber": 1124, "transmittance": 162},
      {"sample": "Fe/Co-MOF-15", "wavenumber": 1104, "transmittance": 140.3},
      {"sample": "Fe/Co-MOF-15", "wavenumber": 1084, "transmittance": 153.7},
      {"sample": "Fe/Co-MOF-15", "wavenumber": 1062, "transmittance": 162},
      {"sample": "Fe/Co-MOF-15", "wavenumber": 1039, "transmittance": 170.3},
      {"sample": "Fe/Co-MOF-15", "wavenumber": 1019, "transmittance": 152},
      {"sample": "Fe/Co-MOF-15", "wavenumber": 1000, "transmittance": 165.3},
      {"sample": "Fe/Co-MOF-15", "wavenumber": 971, "transmittance": 170.3},
      {"sample": "Fe/Co-MOF-15", "wavenumber": 928, "transmittance": 173.7},
      {"sample": "Fe/Co-MOF-15", "wavenumber": 909, "transmittance": 172.7},
      {"sample": "Fe/Co-MOF-15", "wavenumber": 872, "transmittance": 155.3},
      {"sample": "Fe/Co-MOF-15", "wavenumber": 843, "transmittance": 122},
      {"sample": "Fe/Co-MOF-15", "wavenumber": 824, "transmittance": 75.3},
      {"sample": "Fe/Co-MOF-15", "wavenumber": 807, "transmittance": 47},
      {"sample": "Fe/Co-MOF-15", "wavenumber": 793, "transmittance": 62},
      {"sample": "Fe/Co-MOF-15", "wavenumber": 773, "transmittance": 87},
      {"sample": "Fe/Co-MOF-15", "wavenumber": 758, "transmittance": 75.3},
      {"sample": "Fe/Co-MOF-15", "wavenumber": 745, "transmittance": 58.7},
      {"sample": "Fe/Co-MOF-15", "wavenumber": 728, "transmittance": 95.3},
      {"sample": "Fe/Co-MOF-15", "wavenumber": 716, "transmittance": 122},
      {"sample": "Fe/Co-MOF-15", "wavenumber": 702, "transmittance": 112},
      {"sample": "Fe/Co-MOF-15", "wavenumber": 694, "transmittance": 85.3},
      {"sample": "Fe/Co-MOF-15", "wavenumber": 674, "transmittance": 118.7},
      {"sample": "Fe/Co-MOF-15", "wavenumber": 645, "transmittance": 148.7},
      {"sample": "Fe/Co-MOF-15", "wavenumber": 603, "transmittance": 162},
      {"sample": "Fe/Co-MOF-15", "wavenumber": 575, "transmittance": 168},
      {"sample": "Fe/Co-MOF-15", "wavenumber": 552, "transmittance": 145.3},
      {"sample": "Fe/Co-MOF-15", "wavenumber": 532, "transmittance": 135.3},
      {"sample": "Fe/Co-MOF-15", "wavenumber": 512, "transmittance": 125.3},
      {"sample": "Fe/Co-MOF-15", "wavenumber": 495, "transmittance": 162},
      {"sample": "Fe/Co-MOF-15", "wavenumber": 484, "transmittance": 163.7}
    ]
  },
  "resolve": {"scale": {"color": "independent", "x": "independent", "y": "independent"}},
  "hconcat": [
    {
      "width": 414,
      "height": 332,
      "title": {"text": "(a)", "font": "Liberation Serif", "fontSize": 35, "fontWeight": "normal", "color": "black", "anchor": "start", "frame": "group", "dx": -50, "dy": 50, "offset": 0, "baseline": "alphabetic"},
      "layer": [
        {
          "data": {"name": "xrd"},
          "mark": {"type": "line", "strokeWidth": 2},
          "encoding": {
            "x": {
              "field": "theta",
              "type": "quantitative",
              "scale": {"domain": [5, 50], "nice": false, "zero": false},
              "axis": {
                "title": "2θ (degree)",
                "titleFont": "Liberation Serif",
                "labelFont": "Liberation Serif",
                "values": [10, 15, 20, 25, 30, 35, 40, 45, 50],
                "labelExpr": "datum.value % 10 == 0 ? datum.label : ''",
                "tickSize": {"condition": {"test": "datum.value % 10 == 0", "value": 7}, "value": 4}
              }
            },
            "y": {
              "field": "intensity",
              "type": "quantitative",
              "scale": {"domain": [0, 332], "nice": false},
              "axis": {"title": "Intensity (a.u.)", "titleFont": "Liberation Serif"}
            },
            "color": {
              "field": "sample",
              "type": "nominal",
              "scale": {
                "domain": ["Fe/Co-MOF-20", "Fe/Co-MOF-15", "Fe/Co-MOF-10", "Fe/Co-MOF-5", "Co-MOF", "Simulated Co-MOF"],
                "range": ["#2f3552", "#5a52a0", "#9b4c96", "#f06b98", "#f9b2c9", "#000000"]
              },
              "legend": null
            }
          }
        },
        {
          "data": {"name": "xrdLabels"},
          "mark": {"type": "text", "fontSize": 22, "font": "Liberation Serif", "align": "center", "baseline": "middle"},
          "encoding": {
            "x": {"field": "theta", "type": "quantitative"},
            "y": {"field": "intensity", "type": "quantitative"},
            "text": {"field": "label"},
            "color": {"field": "sample", "type": "nominal", "legend": null}
          }
        }
      ]
    },
    {
      "width": 415,
      "height": 332,
      "title": {"text": "(b)", "font": "Liberation Serif", "fontSize": 35, "fontWeight": "normal", "color": "black", "anchor": "start", "frame": "group", "dx": -50, "dy": 50, "offset": 0, "baseline": "alphabetic"},
      "data": {"name": "ftir"},
      "mark": {"type": "line", "strokeWidth": 2.2},
      "encoding": {
        "x": {
          "field": "wavenumber",
          "type": "quantitative",
          "scale": {"domain": [480, 4000], "reverse": true, "nice": false, "zero": false},
          "axis": {
            "title": "Wavenumber (cm⁻¹)",
            "titleFont": "Liberation Serif",
            "labelFont": "Liberation Serif",
            "values": [3800, 3400, 3000, 2600, 2200, 1800, 1400, 1000, 600],
            "labelExpr": "(datum.value - 600) % 800 == 0 ? datum.label : ''",
            "format": "d",
            "tickSize": {"condition": {"test": "(datum.value - 600) % 800 == 0", "value": 7}, "value": 4}
          }
        },
        "y": {
          "field": "transmittance",
          "type": "quantitative",
          "scale": {"domain": [0, 332], "nice": false},
          "axis": {"title": "Transmittance (%)", "titleFont": "Liberation Serif"}
        },
        "color": {
          "field": "sample",
          "type": "nominal",
          "scale": {"domain": ["Co-MOF", "Fe/Co-MOF-15"], "range": ["#ff80a8", "#914b9a"]},
          "legend": {
            "title": null,
            "orient": "none",
            "legendX": 224,
            "legendY": 7,
            "symbolType": "M-5,0H5",
            "symbolSize": 100,
            "symbolStrokeWidth": 2.5,
            "labelFont": "Liberation Serif",
            "labelFontSize": 22,
            "labelColor": "black",
            "labelOffset": 19,
            "rowPadding": 4
          }
        }
      }
    }
  ]
}
